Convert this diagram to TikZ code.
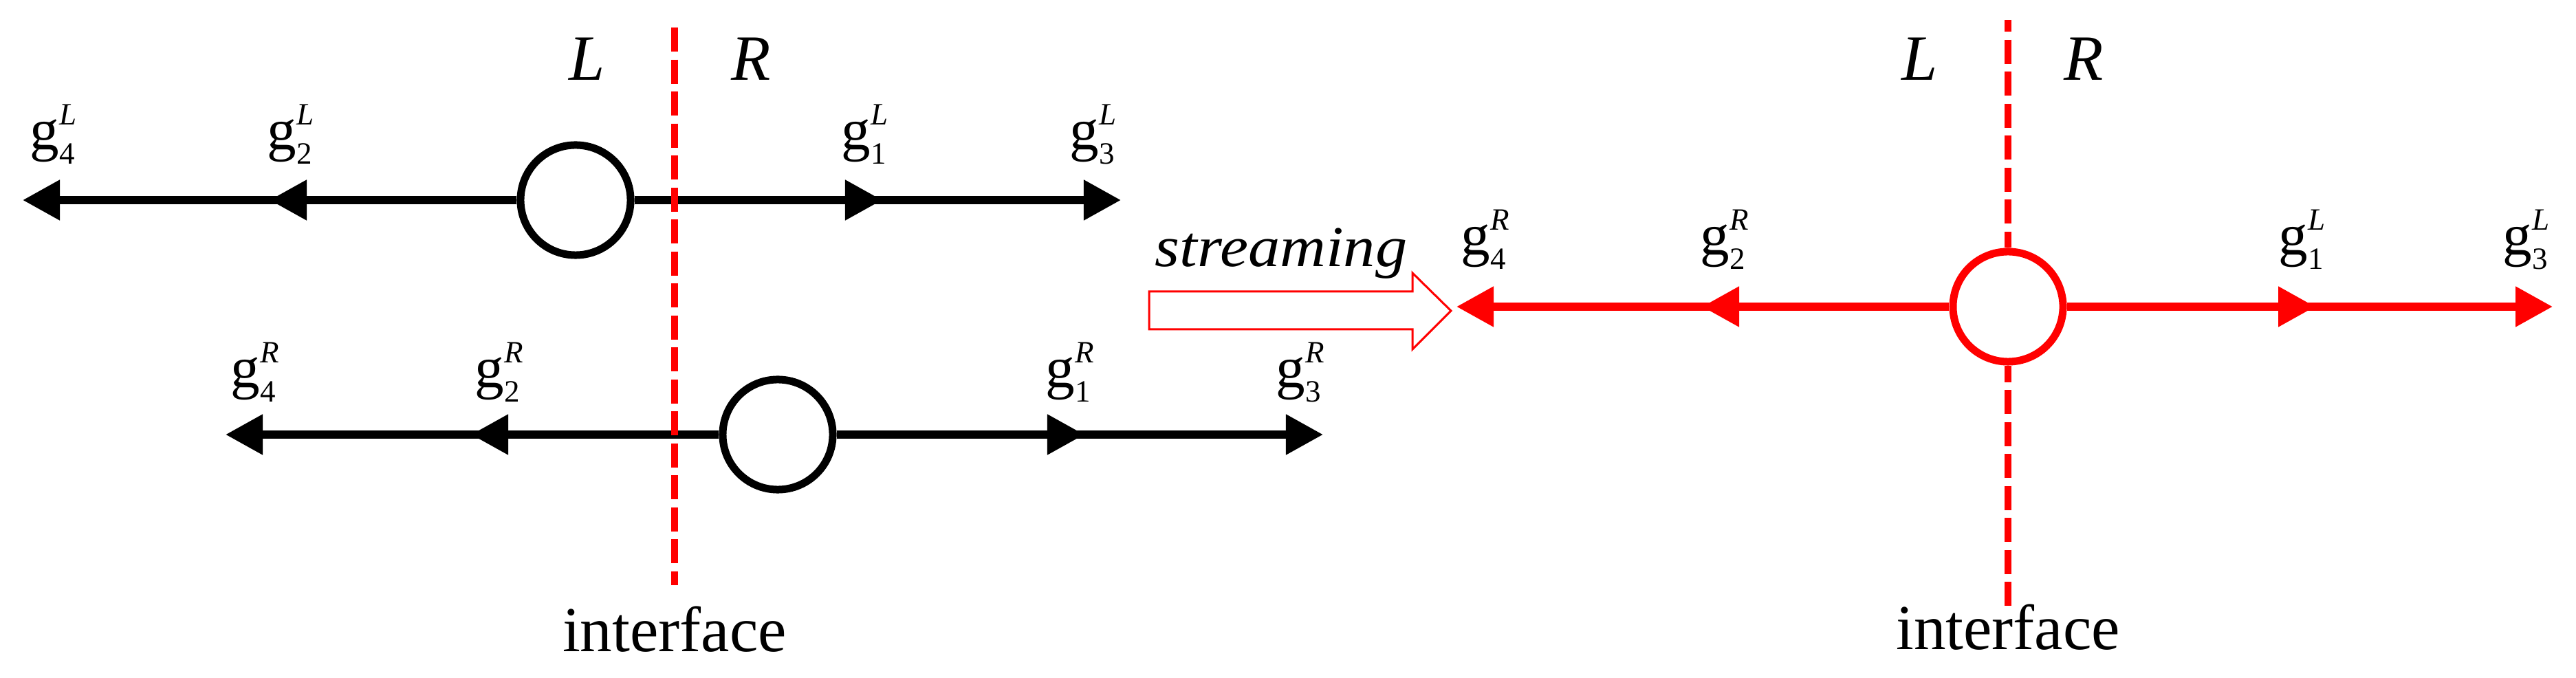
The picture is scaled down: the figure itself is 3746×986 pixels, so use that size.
\documentclass[tikz,border=0pt]{standalone}
\usepackage{fontspec}
\usepackage{graphicx}
\setmainfont{Liberation Serif}
\usetikzlibrary{arrows.meta}
\newcommand\glab[2]{\fontsize{24.2}{24.2}\selectfont g\fontsize{12.8}{12.8}\selectfont\rlap{\raisebox{10.24pt}{\itshape #2}}\raisebox{-5.7pt}{#1}}
\begin{document}
\begin{tikzpicture}[x=0.01cm,y=-0.01cm,
  flow/.style={line width=0.115cm, -{Triangle[length=0.54cm,width=0.56cm]}},
  particle/.style={circle, draw, line width=0.11cm, minimum size=1.6cm, inner sep=0pt, fill=white},
  glabel/.style={anchor=base west, inner sep=0pt},
  side/.style={anchor=base, inner sep=0pt, font=\fontsize{26.7}{26.7}\selectfont\itshape},
  iface/.style={red, line width=0.105cm, dash pattern=on 0.35cm off 0.115cm},
  ilabel/.style={anchor=base, inner sep=0pt, font=\fontsize{26.5}{26.5}\selectfont},
  stream/.style={red, line width=0.03cm},
]
\useasboundingbox (0,0) rectangle (3746,986);

% ---------- left: top particle (L side) ----------
\node[particle] (c1) at (837,291) {};
\coordinate (t1a) at (392,291);
\coordinate (t1b) at (33,291);
\coordinate (t1c) at (1283,291);
\coordinate (t1d) at (1630,291);
\draw[flow] (c1.west) -- (t1b);
\draw[flow] ([xshift=0.6cm]t1a) -- (t1a);
\draw[flow] (c1.east) -- (t1d);
\draw[flow] ([xshift=-0.6cm]t1c) -- (t1c);
\node[glabel] (g4L) at (43,218) {\glab{4}{L}};
\node[glabel] (g2L) at (388,218) {\glab{2}{L}};
\node[glabel] (g1L) at (1223,218) {\glab{1}{L}};
\node[glabel] (g3L) at (1555,218) {\glab{3}{L}};

% ---------- left: bottom particle (R side) ----------
\node[particle] (c2) at (1131,632) {};
\coordinate (t2a) at (685,632);
\coordinate (t2b) at (328,632);
\coordinate (t2c) at (1577,632);
\coordinate (t2d) at (1924,632);
\draw[flow] (c2.west) -- (t2b);
\draw[flow] ([xshift=0.6cm]t2a) -- (t2a);
\draw[flow] (c2.east) -- (t2d);
\draw[flow] ([xshift=-0.6cm]t2c) -- (t2c);
\node[glabel] (g4R) at (335,564) {\glab{4}{R}};
\node[glabel] (g2R) at (690,564) {\glab{2}{R}};
\node[glabel] (g1R) at (1520,564) {\glab{1}{R}};
\node[glabel] (g3R) at (1855,564) {\glab{3}{R}};

% ---------- left interface ----------
\coordinate (i1top) at (981,40);
\coordinate (i1bot) at (981,851);
\draw[iface] (i1top) -- (i1bot);
\node[side] (L1) at (854,117) {L};
\node[side] (R1) at (1092,117) {R};
\node[ilabel] (if1) at (981,947) {interface};

% ---------- streaming arrow ----------
\node[anchor=base, inner sep=0pt] (streamtxt) at (1863,388) {\fontsize{23.9}{23.9}\selectfont\itshape\scalebox{1.1}[1]{streaming}};
\draw[stream] (1671,424) -- (2054,424) -- (2054,397) -- (2110,452) -- (2054,508) -- (2054,479) -- (1671,479) -- cycle;

% ---------- right: merged particle ----------
\node[particle, draw=red] (c3) at (2920,446) {};
\coordinate (t3a) at (2475,446);
\coordinate (t3b) at (2118,446);
\coordinate (t3c) at (3367,446);
\coordinate (t3d) at (3712,446);
\begin{scope}[red]
\draw[flow] (c3.west) -- (t3b);
\draw[flow] ([xshift=0.6cm]t3a) -- (t3a);
\draw[flow] (c3.east) -- (t3d);
\draw[flow] ([xshift=-0.6cm]t3c) -- (t3c);
\end{scope}
\node[glabel] (g4Rb) at (2124,371) {\glab{4}{R}};
\node[glabel] (g2Rb) at (2472,371) {\glab{2}{R}};
\node[glabel] (g1Lb) at (3313,371) {\glab{1}{L}};
\node[glabel] (g3Lb) at (3639,371) {\glab{3}{L}};

\coordinate (i2top) at (2920,29);
\coordinate (i2bot) at (2920,881);
\draw[iface, dash phase=0.18cm] (i2top) -- (c3.north);
\draw[iface, dash phase=0.11cm] (c3.south) -- (i2bot);
\node[side] (L2) at (2792,117) {L};
\node[side] (R2) at (3030,117) {R};
\node[ilabel] (if2) at (2920,945) {interface};
\end{tikzpicture}
\end{document}
